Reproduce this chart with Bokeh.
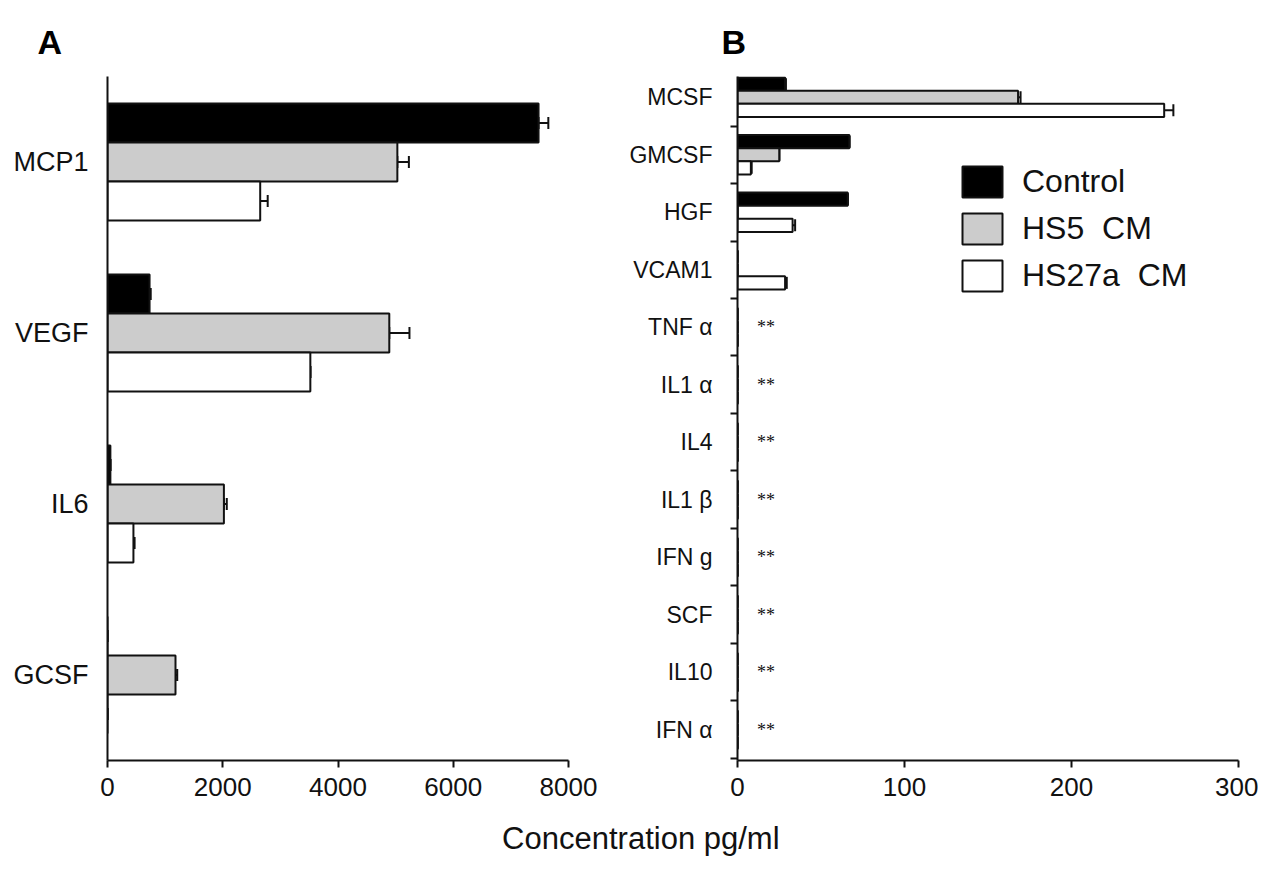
from bokeh.plotting import figure
from bokeh.models import (ColumnDataSource, FactorRange, Range1d, FixedTicker, Whisker, TeeHead,
                          Legend, LegendItem, Label, CustomJSTickFormatter)
from bokeh.transform import dodge
from bokeh.layouts import column, row
from bokeh.embed import file_html
from bokeh.resources import INLINE

FONT = "Liberation Sans"
TXT = "#111111"

# ---------------- data: panel A ----------------
cats_a = ["MCP1", "VEGF", "IL6", "GCSF"]
control_a = [7480, 730, 50, 0]
control_a_err = [170, 20, 0, 0]
hs5_a = [5030, 4890, 2020, 1180]
hs5_a_err = [200, 350, 50, 30]
hs27a_a = [2650, 3520, 450, 0]
hs27a_a_err = [130, 0, 20, 0]
ticks_a = [0, 2000, 4000, 6000, 8000]

# ---------------- data: panel B ----------------
cats_b = ["MCSF", "GMCSF", "HGF", "VCAM1", "TNF α", "IL1 α", "IL4", "IL1 β",
          "IFN g", "SCF", "IL10", "IFN α"]
control_b = [28.5, 67, 66, 0, 0, 0, 0, 0, 0, 0, 0, 0]
control_b_err = [0.5, 0, 0, 0, 0, 0, 0, 0, 0, 0, 0, 0]
hs5_b = [168, 25, 0, 0, 0, 0, 0, 0, 0, 0, 0, 0]
hs5_b_err = [1.5, 0, 0, 0, 0, 0, 0, 0, 0, 0, 0, 0]
hs27a_b = [255.5, 8, 33, 28.5, 0, 0, 0, 0, 0, 0, 0, 0]
hs27a_b_err = [5.5, 0.5, 1.5, 1, 0, 0, 0, 0, 0, 0, 0, 0]
stars_b = ["", "", "", "", "**", "**", "**", "**", "**", "**", "**", "**"]
ticks_b = [0, 100, 200, 300]

series_names = ["Control", "HS5  CM", "HS27a  CM"]
fills = ["#000000", "#cccccc", "#ffffff"]
offsets = [0.228, 0.0, -0.228]
BAR_H = 0.228
LINE = "#111111"
# panel B's bands sit slightly higher than panel A's frame top (frames are aligned in a row)
B_PAD_TOP = 0.139
B_PAD_BOTTOM = 0.035


def make_source(ykey, ycol, vals, errs, both):
    lo = [v - e if both else v for v, e in zip(vals, errs)]
    hi = [v + e for v, e in zip(vals, errs)]
    return ColumnDataSource({ykey: ycol, "val": vals, "lo": lo, "hi": hi})


def draw_bars(p, ykey, ycol, series, errs, sign, rng):
    rends = []
    for i, (vals, err) in enumerate(zip(series, errs)):
        src = make_source(ykey, ycol, vals, err, both=(i == 2))
        ydod = dodge(ykey, sign * offsets[i], range=rng)
        r = p.hbar(y=ydod, left=0, right="val", height=BAR_H, source=src,
                   fill_color=fills[i], line_color=LINE, line_width=2)
        rends.append(r)
        w = Whisker(source=src, base=ydod, lower="lo", upper="hi", dimension="width",
                    line_color=LINE, line_width=2,
                    upper_head=TeeHead(size=12, line_color=LINE, line_width=2),
                    lower_head=TeeHead(size=12, line_color=LINE, line_width=2))
        p.add_layout(w)
    return rends


def style_xaxis(ax, ticks):
    ax.ticker = FixedTicker(ticks=ticks)
    ax.major_tick_out = 7
    ax.major_tick_in = 0
    ax.minor_tick_line_color = None
    ax.axis_line_width = 2
    ax.axis_line_color = LINE
    ax.major_tick_line_width = 2
    ax.major_tick_line_color = LINE
    ax.major_label_text_font = FONT
    ax.major_label_text_font_size = "26px"
    ax.major_label_text_color = TXT
    ax.major_label_standoff = 10


def style_title(p, text, offset, standoff):
    p.title.text = text
    p.title.text_font = FONT
    p.title.text_font_size = "34px"
    p.title.text_font_style = "bold"
    p.title.text_color = "#000000"
    p.title.align = "left"
    p.title.offset = offset
    p.title.standoff = standoff


# ---------------- panel A ----------------
pA = figure(width=600, height=810, y_range=FactorRange(factors=cats_a[::-1]),
            x_range=Range1d(0, 8000), output_backend="svg", toolbar_location=None,
            min_border_left=107, min_border_right=32, min_border_top=76, min_border_bottom=50)
pA.outline_line_color = None
pA.grid.visible = False
draw_bars(pA, "cat", cats_a, [control_a, hs5_a, hs27a_a],
          [control_a_err, hs5_a_err, hs27a_a_err], 1, pA.y_range)
style_xaxis(pA.xaxis[0], ticks_a)
ya = pA.yaxis[0]
ya.major_tick_line_color = None
ya.axis_line_width = 2
ya.axis_line_color = LINE
ya.major_label_text_font = FONT
ya.major_label_text_font_size = "27px"
ya.major_label_text_color = TXT
ya.major_label_standoff = 13
style_title(pA, "A", -70, 32)

# ---------------- panel B ----------------
nB = len(cats_b)
pos_b = [i + 0.5 for i in range(nB)]          # band centres, top to bottom
pB = figure(width=658, height=810, y_range=Range1d(nB + B_PAD_BOTTOM, B_PAD_TOP),
            x_range=Range1d(0, 300), output_backend="svg", toolbar_location=None,
            min_border_left=137, min_border_right=20, min_border_top=76, min_border_bottom=50)
pB.outline_line_color = None
pB.grid.visible = False
yb = pB.yaxis[0]
yb.ticker = FixedTicker(ticks=pos_b, minor_ticks=list(range(nB + 1)))
yb.formatter = CustomJSTickFormatter(args=dict(labels=cats_b),
                                     code="return labels[Math.floor(tick)] || '';")
yb.major_tick_out = 0
yb.major_tick_in = 0
yb.minor_tick_out = 7
yb.minor_tick_in = 0
yb.minor_tick_line_width = 2
yb.minor_tick_line_color = LINE
yb.axis_line_width = 2
yb.axis_line_color = LINE
yb.major_label_text_font = FONT
yb.major_label_text_font_size = "23px"
yb.major_label_text_color = TXT
yb.major_label_standoff = 18

rendsB = draw_bars(pB, "pos", pos_b, [control_b, hs5_b, hs27a_b],
                   [control_b_err, hs5_b_err, hs27a_b_err], -1, None)
style_xaxis(pB.xaxis[0], ticks_b)

star_pos = [y for y, s in zip(pos_b, stars_b) if s]
star_txt = [s for s in stars_b if s]
star_src = ColumnDataSource(dict(pos=star_pos, txt=star_txt, x=[17] * len(star_pos)))
pB.text(x="x", y="pos", text="txt", source=star_src, text_font=FONT,
        text_font_size="18px", text_color=TXT, text_align="center", text_baseline="middle")

legend = Legend(items=[LegendItem(label=n, renderers=[r]) for n, r in zip(series_names, rendsB)],
                location=(220, 465), glyph_width=50, glyph_height=39, label_height=39,
                spacing=8, padding=0, margin=0, border_line_color=None,
                background_fill_alpha=0, label_text_font=FONT, label_text_font_size="32px",
                label_text_color=TXT, label_standoff=15)
pB.add_layout(legend)
style_title(pB, "B", -16, 32)

# ---------------- shared axis title ----------------
pT = figure(width=1258, height=60, x_range=Range1d(0, 1), y_range=Range1d(0, 1),
            output_backend="svg", toolbar_location=None,
            x_axis_location=None, y_axis_location=None, min_border=0)
pT.outline_line_color = None
pT.grid.visible = False
pT.add_layout(Label(x=0.509, y=0.53, text="Concentration pg/ml", text_font=FONT,
                    text_font_size="31px", text_color=TXT, text_align="center",
                    text_baseline="middle"))

layout = column(row(pA, pB), pT)
open("out.html", "w").write(file_html(layout, INLINE))
